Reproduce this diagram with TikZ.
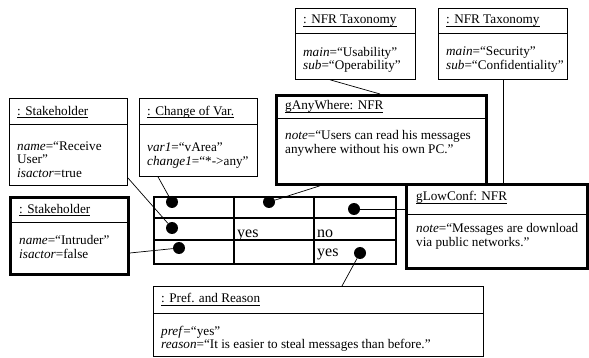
\documentclass[tikz,border=0pt]{standalone}
\usepackage{fontspec}
\setmainfont{Liberation Serif}
\newcommand{\sott}[1]{\setbox0\hbox{#1}\rlap{\rule[-2.4pt]{\wd0}{0.6pt}}\box0}

\begin{document}
\begin{tikzpicture}[x=1pt,y=-1pt,
    oggetto/.style={draw, line width=0.8pt, anchor=north west, inner sep=0pt},
    nfr/.style={oggetto, line width=2.8pt},
    titolo/.style={anchor=base west, inner sep=0pt, font=\fontsize{13.2}{13.5}\selectfont},
    attr/.style={anchor=north west, inner sep=0pt, align=left, font=\fontsize{13.2}{13.5}\selectfont},
    pallino/.style={circle, fill=black, inner sep=0pt, minimum size=12pt},
    cella/.style={anchor=base west, inner sep=0pt, font=\fontsize{16}{18}\selectfont}]
    \useasboundingbox (0,0) rectangle (589,358);

    %stakeholder in alto a sinistra
    \node[oggetto, minimum width=118pt, minimum height=87pt] (sh1) at (9,98) {};
    \draw[line width=0.8pt] (9,124) -- (127,124);
    \node[titolo] (sh1t) at (17,115.5) {\sott{: Stakeholder}};
    \node[attr] (sh1a) at (17,141.5) {\textit{name}=“Receive\\User”\\\textit{isactor}=true};

    %change of var.
    \node[oggetto, minimum width=118pt, minimum height=78pt] (chg) at (139,98) {};
    \draw[line width=0.8pt] (139,124) -- (257,124);
    \node[titolo] (chgt) at (147,115.5) {\sott{: Change of Var.}};
    \node[attr] (chga) at (147,143) {\textit{var1}=“vArea”\\\textit{change1}=“*->any”};

    %stakeholder intruder
    \node[nfr, minimum width=118pt, minimum height=77pt] (sh2) at (9,196) {};
    \draw[line width=0.8pt] (9,222) -- (127,222);
    \node[titolo] (sh2t) at (19,213.5) {\sott{: Stakeholder}};
    \node[attr] (sh2a) at (19,235.5) {\textit{name}=“Intruder”\\\textit{isactor}=false};

    %tassonomie NFR
    \node[oggetto, minimum width=120pt, minimum height=71pt] (tax1) at (295,8) {};
    \draw[line width=0.8pt] (295,33) -- (415,33);
    \node[titolo] (tax1t) at (303,24) {\sott{: NFR Taxonomy}};
    \node[attr] (tax1a) at (303,47) {\textit{main}=“Usability”\\\textit{sub}=“Operability”};

    \node[oggetto, minimum width=129pt, minimum height=71pt] (tax2) at (438,8) {};
    \draw[line width=0.8pt] (438,33) -- (567,33);
    \node[titolo] (tax2t) at (446,24) {\sott{: NFR Taxonomy}};
    \node[attr] (tax2a) at (446,47) {\textit{main}=“Security”\\\textit{sub}=“Confidentiality”};

    %gAnyWhere
    \node[nfr, minimum width=210pt, minimum height=89pt] (any) at (275,94) {};
    \draw[line width=0.8pt] (275,118) -- (485,118);
    \node[titolo] (anyt) at (285,110) {\sott{gAnyWhere: NFR}};
    \node[attr] (anya) at (285,130.5) {\textit{note}=“Users can read his messages\\anywhere without his own PC.”};

    %gLowConf
    \node[nfr, minimum width=181pt, minimum height=84pt] (low) at (405,183) {};
    \draw[line width=0.8pt] (405,214) -- (586,214);
    \node[titolo] (lowt) at (416,201) {\sott{gLowConf: NFR}};
    \node[attr] (lowa) at (416,223.3) {\textit{note}=“Messages are download\\via public networks.”};

    %pref. and reason
    \node[oggetto, minimum width=330pt, minimum height=70pt] (pref) at (153,286) {};
    \draw[line width=0.8pt] (153,313) -- (483,313);
    \node[titolo] (preft) at (161,302.7) {\sott{: Pref. and Reason}};
    \node[attr] (prefa) at (161,326) {\textit{pref}=“yes”\\\textit{reason}=“It is easier to steal messages than before.”};

    %tabella
    \node[draw, line width=2pt, anchor=north west, inner sep=0pt, minimum width=242pt, minimum height=67pt] (tab) at (153,196) {};
    \foreach \y in {218,240}
        \draw[line width=2pt] (153,\y) -- (395,\y);
    \foreach \x in {234,314}
        \draw[line width=2pt] (\x,196) -- (\x,263);
    \node[cella] (c22) at (237,237) {yes};
    \node[cella] (c23) at (317,237) {no};
    \node[cella] (c33) at (317,257) {yes};

    %pallini
    \node[pallino] (d11) at (172,202) {};
    \node[pallino] (d12) at (269,202) {};
    \node[pallino] (d13) at (354,209) {};
    \node[pallino] (d21) at (172,228) {};
    \node[pallino] (d31) at (179,248) {};
    \node[pallino] (d33) at (360,253) {};

    %archi
    \draw[line width=0.7pt] ([yshift=8pt]sh1.south east) -- (d21);
    \draw[line width=0.7pt] ([xshift=19pt]chg.south west) -- (d11);
    \draw[line width=0.7pt] ([xshift=45pt]any.south west) -- (d12);
    \draw[line width=0.7pt] ([xshift=35pt]tax1.south west) -- ([xshift=105pt]any.north west);
    \draw[line width=0.7pt] ([xshift=65pt]tax2.south west) -- ([xshift=98pt]low.north west);
    \draw[line width=0.7pt] ([yshift=-26pt]low.north west) -- (d13);
    \draw[line width=0.7pt] ([yshift=-57pt]sh2.north east) -- (d31);
    \draw[line width=0.7pt] ([xshift=189pt]pref.north west) -- (d33);

\end{tikzpicture}
\end{document}
